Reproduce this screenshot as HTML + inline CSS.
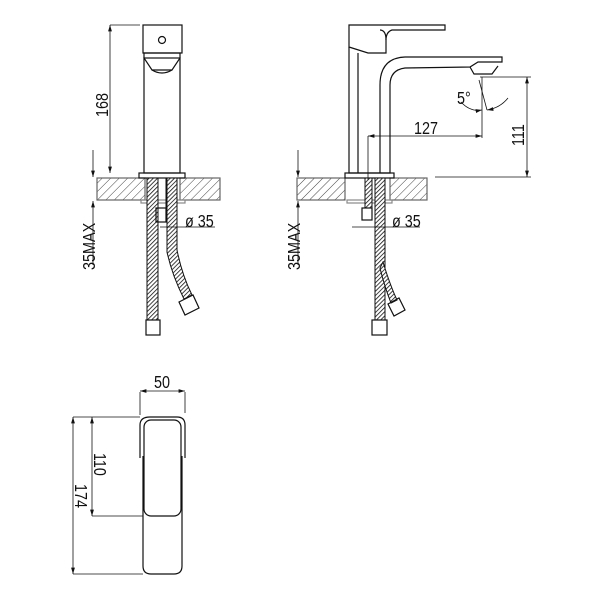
<!DOCTYPE html>
<html><head><meta charset="utf-8"><style>
html,body{margin:0;padding:0;background:#fff;}
svg{display:block}
text{font-family:"Liberation Sans",sans-serif;font-size:18px;fill:#111}
</style></head><body>
<svg width="600" height="600" viewBox="0 0 600 600" xmlns="http://www.w3.org/2000/svg">
<defs>
<pattern id="h" width="6" height="6" patternUnits="userSpaceOnUse" patternTransform="rotate(45)">
<line x1="0" y1="0" x2="0" y2="6" stroke="#444" stroke-width="1"/></pattern>
<pattern id="br" width="3" height="3" patternUnits="userSpaceOnUse" patternTransform="rotate(45)">
<rect width="3" height="3" fill="#fff"/><line x1="0" y1="0" x2="0" y2="3" stroke="#111" stroke-width="1.6"/></pattern>
<marker id="a" viewBox="0 0 10 10" refX="10" refY="5" markerWidth="8" markerHeight="8" orient="auto-start-reverse"><path d="M0,2 L10,5 L0,8z" fill="#111"/></marker>
</defs>
<g fill="none" stroke="#111" stroke-width="1.2">
<!-- LEFT VIEW -->
<rect x="97" y="178" width="48" height="22" fill="url(#h)" stroke="#666"/>
<rect x="180" y="178" width="40" height="22" fill="url(#h)" stroke="#666"/>
<rect x="143" y="25" width="39" height="28"/>
<circle cx="162" cy="40" r="3.5"/>
<path d="M144,53 L180,53 L180,58 L172,70 L152,70 L144,58z"/>
<path d="M152,70 Q162,76 172,70"/>
<rect x="144" y="58" width="36" height="115"/>
<rect x="139" y="173" width="46" height="5"/>
<rect x="141" y="200" width="44" height="3" stroke="#888"/>
<rect x="147" y="178" width="11" height="142" fill="url(#br)" stroke-width="1"/>
<path d="M167,178 L177,178 L177,250 Q182,275 192,295 L184,299 Q172,275 167,252z" fill="url(#br)" stroke-width="1"/>
<rect x="158" y="178" width="8" height="30" stroke-width="1"/>
<rect x="156" y="208" width="10" height="14"/>
<rect x="146" y="320" width="14" height="15"/>
<path d="M179,302 L193,295 L199,308 L185,315z"/>
<!-- dims left -->
<line x1="110" y1="25" x2="140" y2="25" stroke-width="0.8"/>
<line x1="110" y1="25" x2="110" y2="173" marker-start="url(#a)" marker-end="url(#a)" stroke-width="0.8"/>
<line x1="93" y1="150" x2="93" y2="177" marker-end="url(#a)" stroke-width="0.8"/>
<line x1="93" y1="201" x2="93" y2="265" marker-start="url(#a)" stroke-width="0.8"/>
<line x1="160" y1="227" x2="215" y2="227" stroke-width="0.8"/>
<!-- RIGHT VIEW -->
<rect x="297" y="178" width="48" height="22" fill="url(#h)" stroke="#666"/>
<rect x="390" y="178" width="37" height="22" fill="url(#h)" stroke="#666"/>
<path d="M349,25 L445,25 L445,30 L392,30 Q386,32 386,40 L386,53 L368,53 L349,47z"/>
<path d="M380,30 Q386,30 386,40"/>
<path d="M349,47 L349,173 L390,173 L390,85 Q390,70 405,68 L470,67 L478,62 L502,62 L502,57 L405,57 Q380,58 380,85 L380,173"/>
<line x1="358" y1="53" x2="358" y2="173"/>
<path d="M470,67 L474,74 L492,74 L498,66"/>
<rect x="345" y="173" width="49" height="5"/>
<rect x="347" y="200" width="45" height="3" stroke="#888"/>
<rect x="365" y="178" width="7" height="30" fill="url(#br)" stroke-width="1"/>
<rect x="362" y="208" width="10" height="12"/>
<rect x="375" y="178" width="10" height="142" fill="url(#br)" stroke-width="1"/>
<path d="M383,262 Q390,285 397,300 L391,303 Q384,285 380,268z" fill="url(#br)" stroke-width="1"/>
<rect x="372" y="320" width="15" height="15"/>
<path d="M388,304 L399,298 L405,310 L394,316z"/>
<!-- dims right -->
<line x1="480" y1="77" x2="531" y2="77" stroke-width="0.8"/>
<line x1="435" y1="177" x2="531" y2="177" stroke-width="0.8"/>
<line x1="527" y1="77" x2="527" y2="177" marker-start="url(#a)" marker-end="url(#a)" stroke-width="0.8"/>
<line x1="482" y1="77" x2="482" y2="138" stroke-width="0.8"/>
<line x1="368" y1="136" x2="482" y2="136" marker-start="url(#a)" marker-end="url(#a)" stroke-width="0.8"/>
<line x1="368" y1="136" x2="368" y2="180" stroke-width="0.8"/>
<line x1="479" y1="80" x2="487" y2="110" stroke-width="0.8"/>
<path d="M461,102 Q470,112 482,110" stroke-width="0.8" marker-end="url(#a)"/>
<path d="M508,98 Q500,108 487,110" stroke-width="0.8" marker-end="url(#a)"/>
<line x1="298" y1="150" x2="298" y2="177" marker-end="url(#a)" stroke-width="0.8"/>
<line x1="298" y1="201" x2="298" y2="265" marker-start="url(#a)" stroke-width="0.8"/>
<line x1="352" y1="227" x2="420" y2="227" stroke-width="0.8"/>
<!-- BOTTOM VIEW -->
<path d="M140,458 L140,425 Q140,417 150,417 L177,417 Q185,417 185,425 L185,458"/>
<path d="M143,456 L143,566 Q143,574 151,574 L174,574 Q182,574 182,566 L182,456"/>
<rect x="144" y="420" width="37" height="96" rx="7"/>
<line x1="140" y1="392" x2="140" y2="415" stroke-width="0.8"/>
<line x1="185" y1="392" x2="185" y2="413" stroke-width="0.8"/>
<line x1="140" y1="391" x2="185" y2="391" marker-start="url(#a)" marker-end="url(#a)" stroke-width="0.8"/>
<line x1="73" y1="417" x2="140" y2="417" stroke-width="0.8"/>
<line x1="92" y1="516" x2="143" y2="516" stroke-width="0.8"/>
<line x1="73" y1="574" x2="143" y2="574" stroke-width="0.8"/>
<line x1="92" y1="417" x2="92" y2="516" marker-start="url(#a)" marker-end="url(#a)" stroke-width="0.8"/>
<line x1="73" y1="417" x2="73" y2="574" marker-start="url(#a)" marker-end="url(#a)" stroke-width="0.8"/>
</g>
<g>
<text transform="translate(108,117) rotate(-90) scale(0.8,1)">168</text>
<text transform="translate(95,270) rotate(-90) scale(0.8,1)">35MAX</text>
<text transform="translate(300,270) rotate(-90) scale(0.8,1)">35MAX</text>
<text transform="translate(185,227) scale(0.8,1)">ø 35</text>
<text transform="translate(392,227) scale(0.8,1)">ø 35</text>
<text transform="translate(414,134) scale(0.8,1)">127</text>
<text transform="translate(524,146) rotate(-90) scale(0.8,1)">111</text>
<text transform="translate(457,104) scale(0.8,1)">5°</text>
<text transform="translate(154,388) scale(0.8,1)">50</text>
<text transform="translate(94,453) rotate(90) scale(0.8,1)">110</text>
<text transform="translate(75,484) rotate(90) scale(0.8,1)">174</text>
</g>
</svg>
</body></html>
